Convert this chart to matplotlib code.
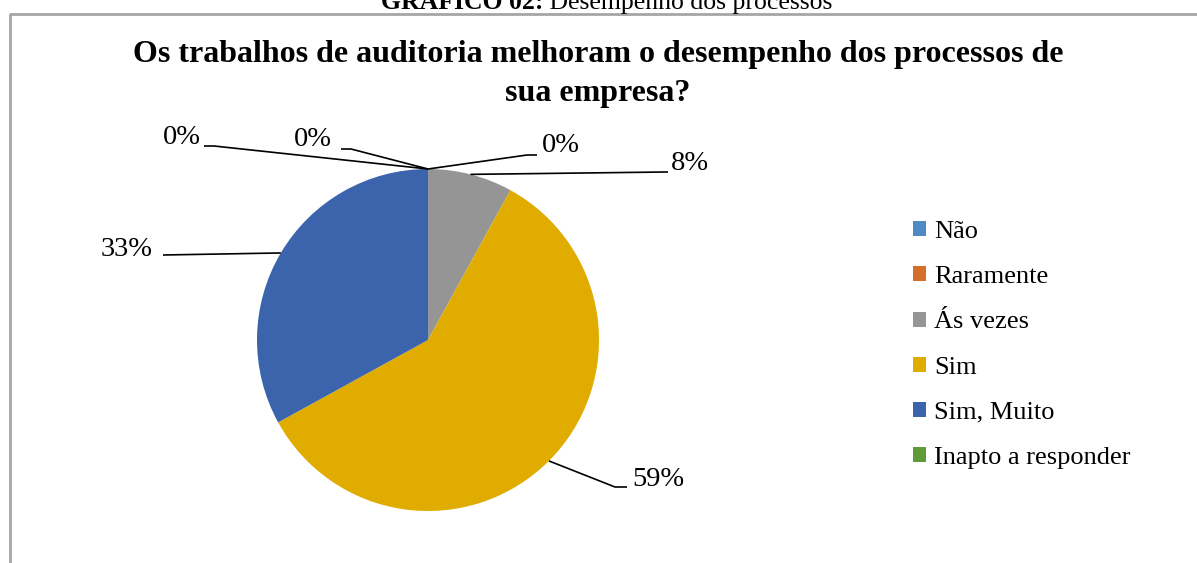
import numpy as np
import matplotlib
matplotlib.use("Agg")
import matplotlib.pyplot as plt

plt.rcParams['font.family'] = ['Liberation Serif', 'DejaVu Serif']

# dados do grafico
categorias = ['Não', 'Raramente', 'Ás vezes', 'Sim', 'Sim, Muito', 'Inapto a responder']
valores = [0, 0, 8, 59, 33, 0]
rotulos = ['0%', '0%', '8%', '59%', '33%', '0%']
cores = ['#4F8AC2', '#D56E2A', '#959595', '#E1AC00', '#3B64AD', '#5F9A3B']

W, H = 1197, 563
def Y(y):
    return H - y

fig = plt.figure(figsize=(W / 100, H / 100), dpi=100)
ax = fig.add_axes([0, 0, 1, 1])

wedges, _ = ax.pie(valores, colors=cores, startangle=90, counterclock=False,
                   center=(428, Y(340)), radius=171,
                   wedgeprops=dict(linewidth=0))
ax.set_xlim(0, W)
ax.set_ylim(0, H)
ax.set_aspect('equal')
ax.axis('off')

# posicao dos rotulos (texto, cotovelo da linha)
pos_texto = [(561, 146), (313, 140), (690, 163), (658, 479), (127, 249), (182, 138)]
pos_cotov = [[(527, 155), (537, 155)],
             [(351, 149), (341, 149)],
             [(665, 172), (668, 172)],
             [(615, 487), (627, 487)],
             [(163, 255), (163, 255)],
             [(214, 146), (204, 146)]]

for w, txt, (tx, ty), cot in zip(wedges, rotulos, pos_texto, pos_cotov):
    ang = np.deg2rad((w.theta1 + w.theta2) / 2)
    ax0 = w.center[0] + w.r * np.cos(ang)
    ay0 = w.center[1] + w.r * np.sin(ang)
    xs = [ax0] + [c[0] for c in cot]
    ys = [ay0] + [Y(c[1]) for c in cot]
    ax.plot(xs, ys, color='black', lw=1.2, solid_capstyle='butt')
    ax.text(tx, Y(ty), txt, fontsize=20.5, ha='center', va='center')

# titulo
ax.text(598, Y(74), 'Os trabalhos de auditoria melhoram o desempenho dos processos de\nsua empresa?',
        fontsize=23, fontweight='bold', ha='center', va='center', linespacing=1.45)

# cabecalho cortado no topo
t1 = ax.text(381, Y(9), 'GRÁFICO 02:', fontsize=18.5, fontweight='bold', ha='left', va='baseline')
fig.canvas.draw()
bb = t1.get_window_extent()
ax.text(bb.x1, Y(9), ' Desempenho dos processos', fontsize=18.5, ha='left', va='baseline')

# moldura
ax.plot([10, 10, W], [Y(H), Y(14), Y(14)], color='#A6A6A6', lw=2, solid_capstyle='butt')

leg = ax.legend(wedges, categorias, loc='upper left',
                bbox_to_anchor=(913 / W, 1 - 221 / H), bbox_transform=fig.transFigure,
                frameon=False, fontsize=19, borderpad=0, borderaxespad=0,
                handlelength=0.5, handleheight=0.5, handletextpad=0.3,
                labelspacing=0.88)

fig.savefig('out.png', dpi=100)
